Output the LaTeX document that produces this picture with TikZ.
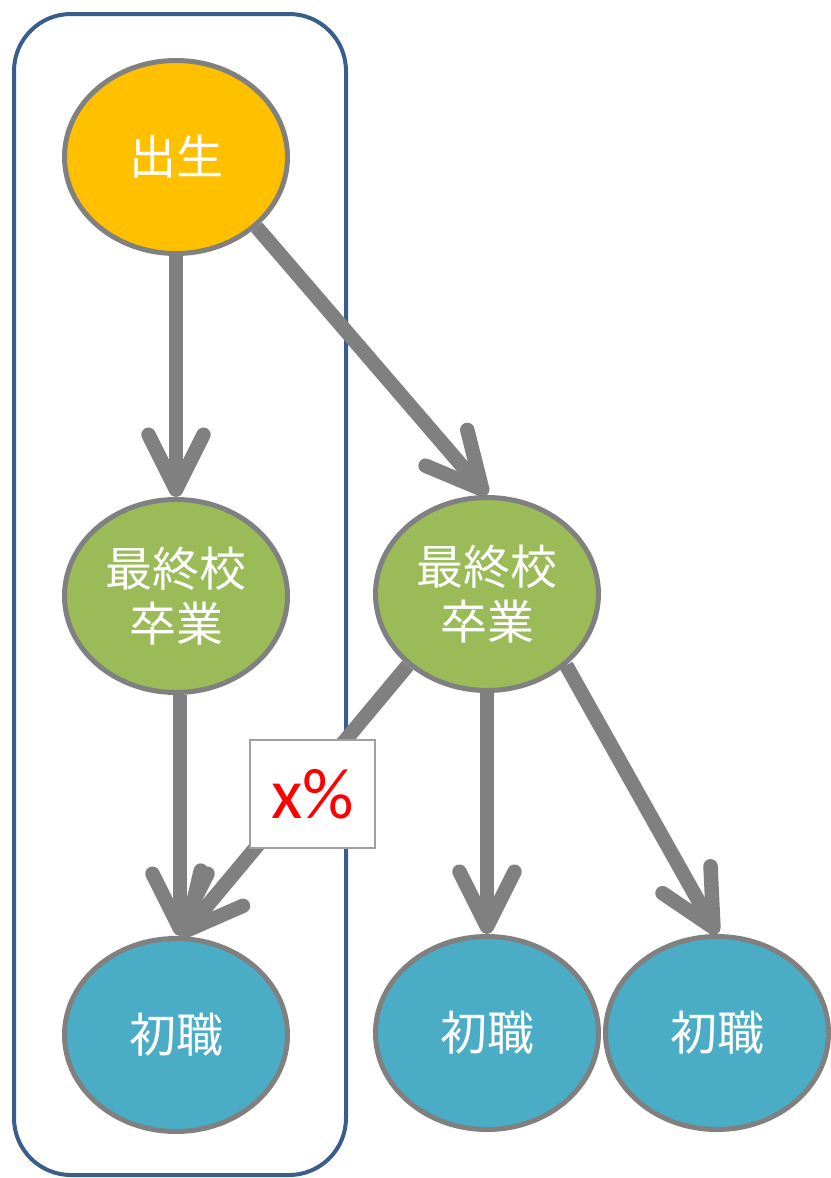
\documentclass[tikz,border=0pt]{standalone}
\usepackage{fontspec}
\newfontfamily\jpfont{Noto Sans CJK JP}
\newfontfamily\latinsans{Carlito}
\usetikzlibrary{shapes.geometric,arrows.meta}
\definecolor{frameblue}{HTML}{3A5E8C}
\definecolor{edgegray}{HTML}{808080}
\definecolor{orangefill}{HTML}{FFC000}
\definecolor{greenfill}{HTML}{9BBB59}
\definecolor{bluefill}{HTML}{4BACC6}
\definecolor{boxgray}{HTML}{A0A0A0}
\tikzset{
  ev/.style={ellipse, draw=edgegray, line width=5pt, minimum width=223pt, minimum height=193pt,
    inner sep=0pt, text=white, align=center, font=\jpfont\fontsize{47}{55}\selectfont},
  born/.style={ev, fill=orangefill},
  grad/.style={ev, fill=greenfill},
  job/.style={ev, fill=bluefill},
  flow/.style={draw=edgegray, line width=14.5pt, -{Straight Barb[length=55pt,width=55pt,round]}},
  pctbox/.style={draw=boxgray, line width=2pt, fill=white, minimum width=125pt, minimum height=108pt,
    inner sep=0pt, text=red, font=\latinsans\fontsize{72}{72}\selectfont},
  frame/.style={draw=frameblue, line width=4pt, rounded corners=57pt}
}
\begin{document}
\begin{tikzpicture}[x=1pt,y=-1pt]
\useasboundingbox (0,0) rectangle (830,1178);
\draw[frame] (14,14) rectangle (346,1175);
\node[born] (ch) at (176,157) {出生};
\node[grad] (lg) at (176,596) {最終校\\卒業};
\node[grad] (rg) at (487,594) {最終校\\卒業};
\node[job] (lj) at (176,1035) {初職};
\node[job] (mj) at (487,1033) {初職};
\node[job] (rj) at (717,1033) {初職};
\draw[flow] (ch.south) -- (lg.north);
\draw[flow] (ch.-41) -- (rg.north);
\draw[flow] ([xshift=4pt]lg.south) -- ([xshift=4pt]lj.north);
\draw[flow] (rg.-138) -- ([xshift=6pt]lj.north);
\draw[flow] (rg.south) -- (mj.north);
\draw[flow] (rg.-42) -- (rj.north);
\node[pctbox] (pct) at (312.5,794) {x\%};
\end{tikzpicture}
\end{document}
